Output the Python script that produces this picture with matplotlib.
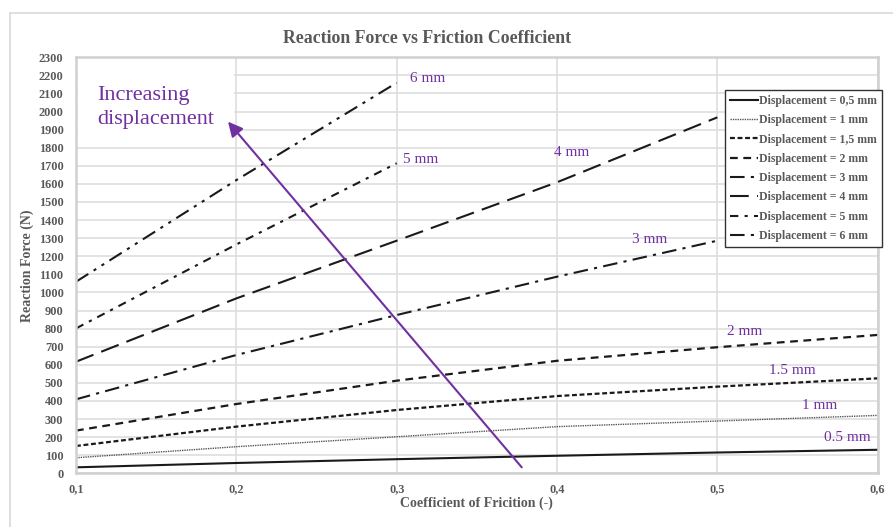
import matplotlib.pyplot as plt
from matplotlib.patches import Rectangle
from matplotlib.lines import Line2D

plt.rcParams['font.family'] = ['Liberation Serif', 'DejaVu Serif']

mu = [0.1, 0.2, 0.3, 0.4, 0.5, 0.6]

f_05 = [33, 57, 78, 97, 115, 130]
f_1 = [86, 147, 202, 258, 289, 320]
f_15 = [151, 258, 350, 427, 479, 525]
f_2 = [236, 383, 512, 622, 697, 765]
f_3 = [409, 654, 875, 1087, 1286]
f_4 = [617, 967, 1286, 1609, 1968]
f_5 = [801, 1265, 1714]
f_6 = [1059, 1621, 2159]

series = [
    ('Displacement = 0,5 mm', f_05, '-', 1.5, '#1a1a1a'),
    ('Displacement = 1 mm', f_1, (0, (1, 0.7)), 1.0, '#555555'),
    ('Displacement = 1,5 mm', f_15, (0, (2.2, 1.2)), 1.6, '#1a1a1a'),
    ('Displacement = 2 mm', f_2, (0, (3.5, 2.5)), 1.6, '#1a1a1a'),
    ('Displacement = 3 mm', f_3, (0, (7, 3, 1.5, 3)), 1.5, '#1a1a1a'),
    ('Displacement = 4 mm', f_4, (0, (9, 4)), 1.5, '#1a1a1a'),
    ('Displacement = 5 mm', f_5, (0, (4, 3, 1.5, 3)), 1.5, '#1a1a1a'),
    ('Displacement = 6 mm', f_6, (0, (7, 3, 1.5, 3, 1.5, 3)), 1.5, '#1a1a1a'),
]

# curve labels (x, y, text)
labels = [
    (0.319, 2180, '6 mm'),
    (0.315, 1733, '5 mm'),
    (0.409, 1771, '4 mm'),
    (0.458, 1291, '3 mm'),
    (0.517, 782, '2 mm'),
    (0.547, 567, '1.5 mm'),
    (0.564, 373, '1 mm'),
    (0.581, 196, '0.5 mm'),
]
arrow_start = (0.378, 33)
arrow_tip = (0.1948, 1944)

purple = '#7030A0'
gray = '#595959'

fig = plt.figure(figsize=(8.93, 5.27), dpi=100)
ax = fig.add_axes([0.0851, 0.1019, 0.8978, 0.7894])

for name, vals, ls, lw, col in series:
    ax.plot(mu[:len(vals)], vals, linestyle=ls, linewidth=lw, color=col, label=name, zorder=2)

ax.set_xlim(0.1, 0.6)
ax.set_ylim(0, 2300)
ax.set_xticks(mu)
ax.set_xticklabels([('%.1f' % v).replace('.', ',') for v in mu])
ax.set_yticks(range(0, 2301, 100))
ax.set_axisbelow(True)
ax.grid(True, color='#dedede', linewidth=1.2)
for s in ax.spines.values():
    s.set_color('#d0d0d0')
    s.set_linewidth(1.8)
ax.tick_params(length=0, labelsize=8.8, labelcolor=gray)
ax.tick_params(axis='y', pad=9)
ax.tick_params(axis='x', pad=7)
for t in ax.get_xticklabels() + ax.get_yticklabels():
    t.set_fontweight('bold')

fig.text(0.4787, 0.927, 'Reaction Force vs Friction Coefficient', fontsize=12.8,
         fontweight='bold', color=gray, ha='center', va='center')
ax.set_xlabel('Coefficient of Fricition (-)', fontsize=10, fontweight='bold', color=gray, labelpad=1)
ax.set_ylabel('Reaction Force (N)', fontsize=10, fontweight='bold', color=gray, labelpad=3)

# white area behind the annotation text
ax.add_patch(Rectangle((0.002, 0.80), 0.195, 0.177, transform=ax.transAxes,
                       facecolor='white', edgecolor='none', zorder=1))
ax.text(0.1135, 2020, 'Increasing\ndisplacement', fontsize=16, color=purple,
        ha='left', va='center', linespacing=1.35, zorder=3)
ax.annotate('', xy=arrow_tip, xytext=arrow_start,
            arrowprops=dict(arrowstyle='-|>', color=purple, lw=1.5, mutation_scale=22,
                            shrinkA=0, shrinkB=0), zorder=4)

for x, y, txt in labels:
    ax.text(x, y, txt, fontsize=11, color=purple, ha='center', va='center', zorder=3)

leg = ax.legend(loc='upper right', bbox_to_anchor=(1.005, 0.921), fontsize=8.5,
                handlelength=2.4, handletextpad=0.1, labelspacing=0.62,
                borderpad=0.4, borderaxespad=0, fancybox=False, framealpha=1)
leg.get_frame().set_edgecolor('#333333')
leg.get_frame().set_linewidth(1.0)
for t in leg.get_texts():
    t.set_color(gray)
    t.set_fontweight('bold')

# outer chart border (left and top)
fig.add_artist(Line2D([0.0112, 0.0112], [0.0, 0.9753], color='#d9d9d9', lw=1.2))
fig.add_artist(Line2D([0.0112, 1.0], [0.9753, 0.9753], color='#d9d9d9', lw=1.2))

fig.savefig('out.png', dpi=100)
